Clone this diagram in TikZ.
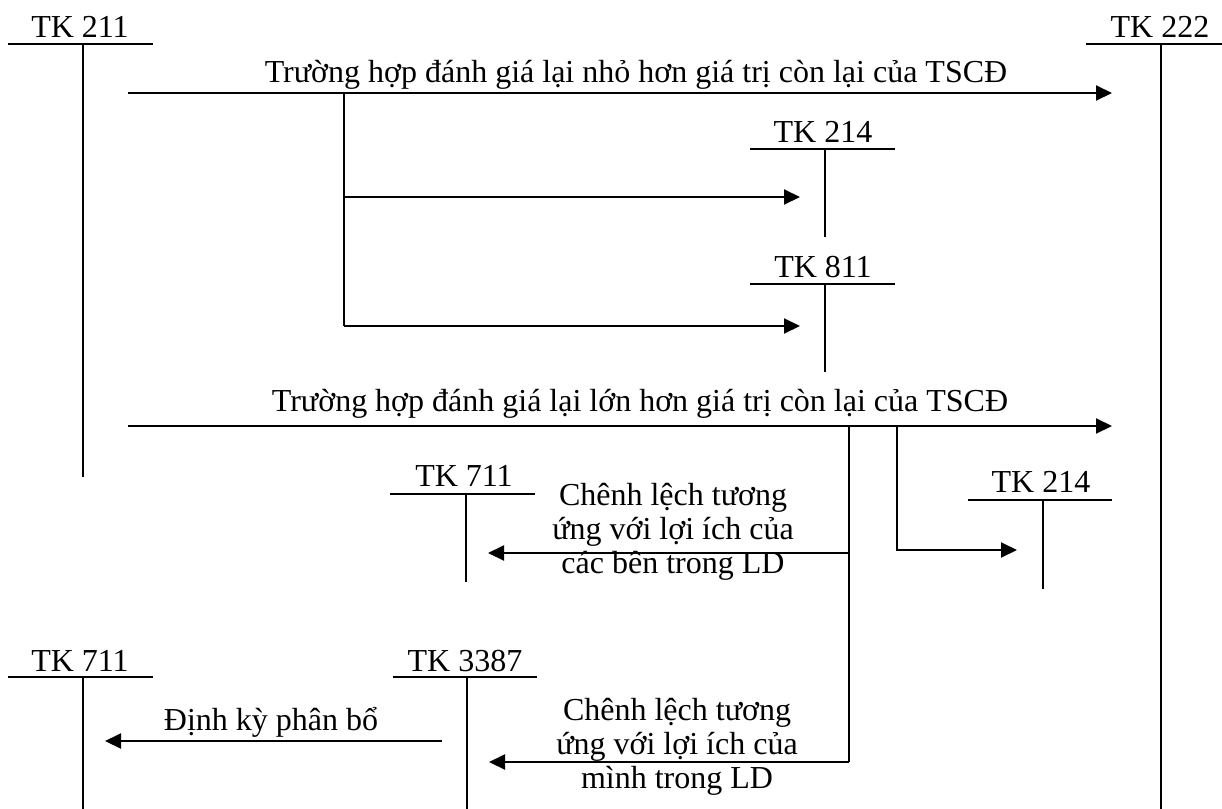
\documentclass[tikz,border=0pt]{standalone}
\usepackage{fontspec}
\setmainfont{Liberation Serif}
\usetikzlibrary{arrows.meta}
\begin{document}
\begin{tikzpicture}[x=0.5pt,y=-0.5pt,
  ln/.style={line width=1pt},
  arr/.style={line width=1pt,-{Triangle[length=8pt,width=7.5pt]}},
  lbl/.style={font=\fontsize{16}{17}\selectfont, inner sep=0pt, anchor=base},
  ml/.style={font=\fontsize{16}{17}\selectfont, inner sep=0pt, align=center}]
\useasboundingbox (0,0) rectangle (1222,809);

% ---- T-account labels
\node[lbl] (t211) at (80,37) {TK 211};
\node[lbl] (t222) at (1160,37) {TK 222};
\node[lbl] (t214a) at (823,142) {TK 214};
\node[lbl] (t811) at (823,277) {TK 811};
\node[lbl] (t711a) at (464,486) {TK 711};
\node[lbl] (t214b) at (1041,492) {TK 214};
\node[lbl] (t711b) at (80,671) {TK 711};
\node[lbl] (t3387) at (465,671) {TK 3387};

% ---- T-account lines
\coordinate (a1l) at (8,44);   \coordinate (a1r) at (153,44);
\coordinate (a1t) at (83,44);  \coordinate (a1b) at (83,477);
\coordinate (a2l) at (1086,44); \coordinate (a2r) at (1222,44);
\coordinate (a2t) at (1161,44); \coordinate (a2b) at (1161,809);
\coordinate (a3l) at (750,149); \coordinate (a3r) at (895,149);
\coordinate (a3t) at (825,149); \coordinate (a3b) at (825,237);
\coordinate (a4l) at (750,284); \coordinate (a4r) at (895,284);
\coordinate (a4t) at (825,284); \coordinate (a4b) at (825,372);
\coordinate (a5l) at (390,494); \coordinate (a5r) at (535,494);
\coordinate (a5t) at (466,494); \coordinate (a5b) at (466,582);
\coordinate (a6l) at (968,500); \coordinate (a6r) at (1112,500);
\coordinate (a6t) at (1043,500); \coordinate (a6b) at (1043,589);
\coordinate (a7l) at (8,677);  \coordinate (a7r) at (153,677);
\coordinate (a7t) at (83,677); \coordinate (a7b) at (83,809);
\coordinate (a8l) at (393,677); \coordinate (a8r) at (537,677);
\coordinate (a8t) at (467,677); \coordinate (a8b) at (467,809);
\foreach \i in {1,...,8} {
  \draw[ln] (a\i l) -- (a\i r);
  \draw[ln] (a\i t) -- (a\i b);
}

% ---- flows
\coordinate (s1) at (128,93);  \coordinate (e1) at (1112,93);
\draw[arr] (s1) -- (e1);
\node[lbl] (l1) at (636,82) {Trường hợp đánh giá lại nhỏ hơn giá trị còn lại của TSCĐ};

\coordinate (b1) at (344,93);
\coordinate (e2) at (800,197);
\coordinate (e3) at (800,326);
\draw[ln] (b1) -- (b1|-e3);
\draw[arr] (b1|-e2) -- (e2);
\draw[arr] (b1|-e3) -- (e3);

\coordinate (s4) at (128,426);  \coordinate (e4) at (1112,426);
\draw[arr] (s4) -- (e4);
\node[lbl] (l2) at (640,411) {Trường hợp đánh giá lại lớn hơn giá trị còn lại của TSCĐ};

\coordinate (b2) at (897,426);
\coordinate (e5) at (1017,550);
\draw[arr] (b2) |- (e5);

\coordinate (b3) at (849,426);
\coordinate (e6) at (488,553);
\coordinate (e7) at (489,762);
\draw[ln] (b3) -- (b3|-e7);
\draw[arr] (b3|-e6) -- (e6);
\draw[arr] (b3|-e7) -- (e7);
\node[ml] (l3) at (673,532) {Chênh lệch tương\\ứng với lợi ích của\\các bên trong LD};
\node[ml] (l4) at (677,747) {Chênh lệch tương\\ứng với lợi ích của\\mình trong LD};

\coordinate (s8) at (442,741); \coordinate (e8) at (105,741);
\draw[arr] (s8) -- (e8);
\node[lbl] (l5) at (271,730) {Định kỳ phân bổ};
\end{tikzpicture}
\end{document}
